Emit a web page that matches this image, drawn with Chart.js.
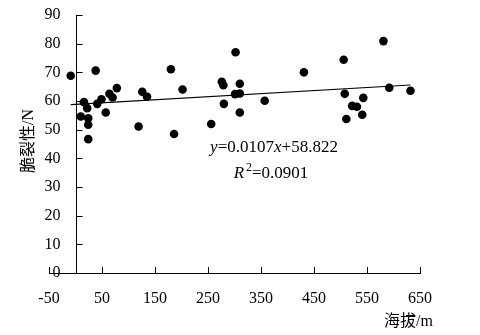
<!DOCTYPE html>
<html>
<head>
<meta charset="utf-8">
<script src="https://cdn.jsdelivr.net/npm/chart.js@4"></script>
<style>
  body { margin: 0; background: #fff; }
  canvas { display: block; }
</style>
</head>
<body>
<canvas id="scatter" width="480" height="335"></canvas>
<script>
// values
const elevation = [-9, 16, 10, 22, 24, 24, 24, 38, 41, 49, 57, 64, 70, 78, 119, 126, 135, 180, 186, 202,
  256, 276, 279, 280, 302, 301, 310, 310, 310, 357, 431, 506, 508, 511, 522, 531, 543, 541, 581, 592, 632];
const brittleness = [68.8, 59.6, 54.6, 57.5, 54, 51.7, 46.7, 70.6, 59, 60.6, 56, 62.5, 61.2, 64.5, 51.1, 63.2, 61.5, 71.1, 48.5, 64,
  52, 66.7, 65.5, 59, 77, 62.4, 66, 62.6, 56, 60.1, 70, 74.4, 62.5, 53.7, 58.3, 58, 61.1, 55.2, 80.9, 64.6, 63.6];

// fitted line printed on the figure
const slope = 0.0107;
const intercept = 58.822;
const trendX = [-9, 632];

const xTicks = [-50, 50, 150, 250, 350, 450, 550, 650];
const yTicks = [0, 10, 20, 30, 40, 50, 60, 70, 80, 90];

const serif = "'Liberation Serif', 'Times New Roman', 'Noto Sans CJK SC', serif";

const points = elevation.map((x, i) => ({ x: x, y: brittleness[i] }));
const trend = trendX.map((x) => ({ x: x, y: slope * x + intercept }));

// y axis sits at x = 0, ticks point inward, so draw that part by hand
const axesPlugin = {
  id: "axesAtZero",
  afterDraw(chart) {
    const c = chart.ctx;
    const xs = chart.scales.x;
    const ys = chart.scales.y;
    const ax = Math.round(xs.getPixelForValue(0)) + 0.5;
    const bottom = chart.chartArea.bottom;

    c.save();
    c.strokeStyle = "#000";
    c.lineWidth = 1;
    c.beginPath();
    c.moveTo(ax, Math.round(ys.getPixelForValue(90)));
    c.lineTo(ax, bottom);
    yTicks.forEach((v) => {
      const py = Math.round(ys.getPixelForValue(v)) + 0.5;
      c.moveTo(ax, py);
      c.lineTo(ax + 6, py);
    });
    xTicks.forEach((v) => {
      const px = Math.round(xs.getPixelForValue(v)) + 0.5;
      c.moveTo(px, bottom);
      c.lineTo(px, bottom - 6);
    });
    c.stroke();

    c.fillStyle = "#000";
    c.font = "16px " + serif;
    c.textAlign = "right";
    c.textBaseline = "middle";
    yTicks.forEach((v) => {
      c.fillText(String(v), ax - 16, ys.getPixelForValue(v));
    });

    // axis titles
    c.textAlign = "right";
    c.fillText("海拔/m", 433, 322);
    c.save();
    c.translate(29, 141);
    c.rotate(-Math.PI / 2);
    c.textAlign = "center";
    c.fillText("脆裂性/N", 0, 0);
    c.restore();

    // equation
    drawPieces(c, [["y", true], ["=0.0107", false], ["x", true], ["+58.822", false]], 274, 148);
    drawPieces(c, [["R", true], ["2", false, true], ["=0.0901", false]], 271, 174);
    c.restore();
  },
};

function drawPieces(c, pieces, cx, cy) {
  const fontFor = (p) => (p[1] ? "italic " : "") + (p[2] ? "12px " : "17px ") + serif;
  let total = 0;
  pieces.forEach((p) => {
    c.font = fontFor(p);
    total += c.measureText(p[0]).width + (p[2] ? 2 : 0);
  });
  let x = cx - total / 2;
  c.textAlign = "left";
  c.textBaseline = "middle";
  pieces.forEach((p) => {
    c.font = fontFor(p);
    if (p[2]) x += 2;
    c.fillText(p[0], x, p[2] ? cy - 6 : cy);
    x += c.measureText(p[0]).width;
  });
}

new Chart(document.getElementById("scatter"), {
  type: "scatter",
  data: {
    datasets: [
      {
        data: points,
        backgroundColor: "#000",
        borderWidth: 0,
        pointRadius: 4.3,
      },
      {
        type: "line",
        data: trend,
        borderColor: "#000",
        borderWidth: 1.2,
        pointRadius: 0,
        fill: false,
      },
    ],
  },
  options: {
    responsive: false,
    animation: false,
    layout: {
      padding: { left: 49, right: 60, top: 15, bottom: 0 },
    },
    plugins: {
      legend: { display: false },
      tooltip: { enabled: false },
    },
    scales: {
      x: {
        type: "linear",
        min: -50,
        max: 650,
        afterBuildTicks: (s) => {
          s.ticks = xTicks.map((v) => ({ value: v }));
        },
        ticks: {
          color: "#000",
          font: { family: serif, size: 16 },
          padding: 16,
          maxRotation: 0,
        },
        grid: { drawOnChartArea: false, drawTicks: false },
        border: { color: "#000", width: 1 },
        afterFit: (s) => {
          s.height = 62;
        },
      },
      y: {
        display: false,
        min: 0,
        max: 90,
        afterBuildTicks: (s) => {
          s.ticks = yTicks.map((v) => ({ value: v }));
        },
      },
    },
  },
  plugins: [axesPlugin],
});
</script>
</body>
</html>
